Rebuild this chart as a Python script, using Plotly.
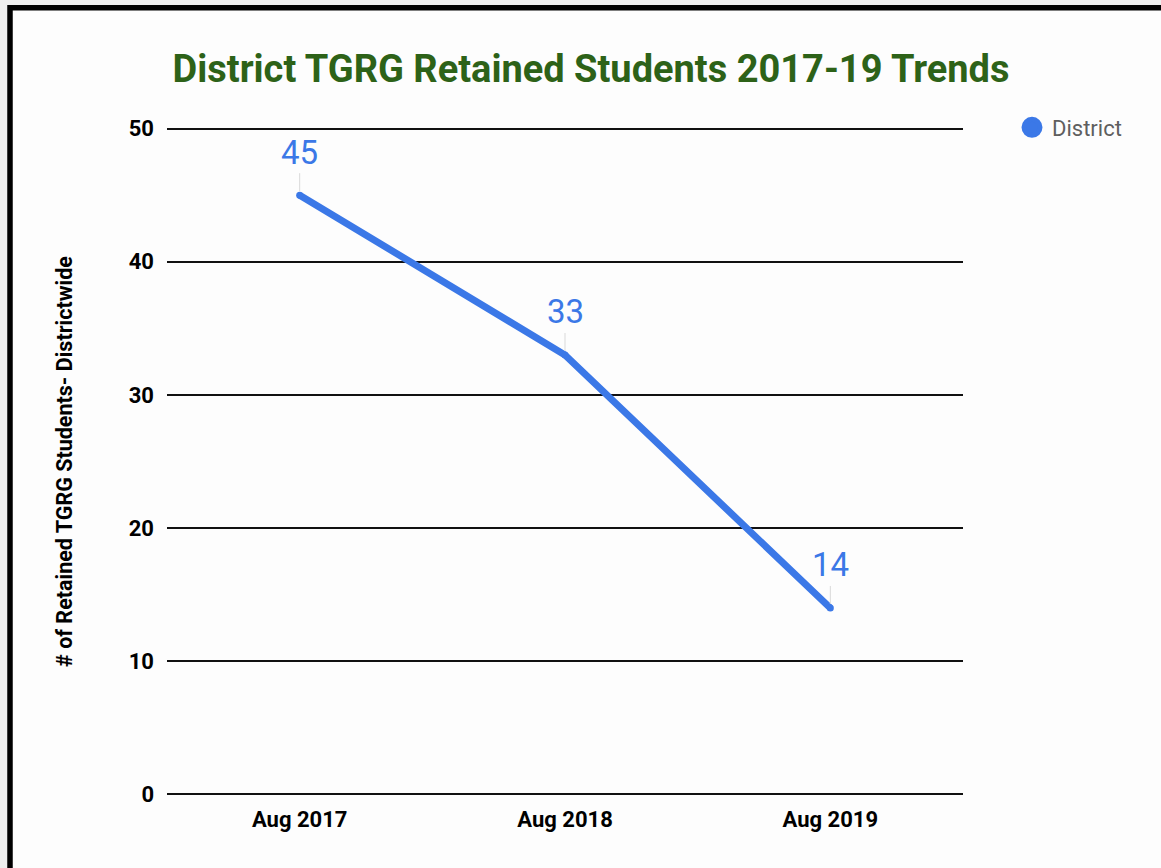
import plotly.graph_objects as go

categories = ["Aug 2017", "Aug 2018", "Aug 2019"]
district = [45, 33, 14]
y_ticks = [0, 10, 20, 30, 40, 50]

W, H = 1161, 868
L, R, T, B = 167, W - 963, 126.5, 71.5
BLUE = "#3b78e7"

fig = go.Figure()
fig.add_trace(go.Scatter(
    x=categories, y=district, mode="lines+markers",
    line=dict(color=BLUE, width=7),
    marker=dict(color=BLUE, size=7),
    showlegend=False, hoverinfo="x+y",
))
fig.add_trace(go.Scatter(
    x=[None], y=[None], mode="markers", name="District",
    marker=dict(color=BLUE, size=22, line=dict(color=BLUE, width=5)),
))

for c, v in zip(categories, district):
    fig.add_annotation(
        x=c, y=v, text=str(v), showarrow=True, arrowhead=0, arrowwidth=1,
        arrowcolor="#d9d9d9", ax=0, ay=-43, standoff=4,
        font=dict(family="Roboto", size=33, color=BLUE),
    )

def px_x(p):
    return (p - L) / (W - L - R)

def px_y(p):
    return 1 - (p - T) / (H - T - B)

# outer frame
fig.add_shape(type="rect", xref="paper", yref="paper",
              x0=px_x(-20), x1=px_x(W + 40), y0=px_y(-20), y1=px_y(H + 40),
              line=dict(width=0), fillcolor="#eeeeee", layer="below")
fig.add_shape(type="rect", xref="paper", yref="paper",
              x0=px_x(10), x1=px_x(W + 40), y0=px_y(7), y1=px_y(H + 40),
              line=dict(color="black", width=5.5), fillcolor="#fdfdfd", layer="below")

fig.update_layout(
    width=W, height=H,
    margin=dict(l=L, r=R, t=T, b=B, pad=0),
    paper_bgcolor="#fdfdfd", plot_bgcolor="rgba(0,0,0,0)",
    font=dict(family="Roboto", color="black"),
    title=dict(text="District TGRG Retained Students 2017-19 Trends",
               xref="container", x=591 / W, xanchor="center",
               yref="container", y=1 - 69 / H, yanchor="middle",
               font=dict(family="Roboto", size=38, color="#2d6218", weight="bold")),
    xaxis=dict(range=[-0.5, 2.5], showgrid=False, zeroline=False, showline=False,
               tickfont=dict(family="Roboto", size=22, color="black", weight="bold"),
               ticks="", ticklabelstandoff=8),
    yaxis=dict(range=[-0.12, 50.12], tickvals=y_ticks, showgrid=True, gridcolor="#111111",
               gridwidth=1.6, zeroline=False, showline=False, ticks="",
               tickfont=dict(family="Roboto", size=22, color="black", weight="bold"),
               ticklabelstandoff=12,
               title=dict(text="# of Retained TGRG Students- Districtwide", standoff=50,
                          font=dict(family="Roboto", size=21.5, color="black", weight="bold"))),
    legend=dict(x=1.0 + (1012 - 963) / (W - L - R), xanchor="left",
                y=px_y(106), yanchor="top",
                font=dict(family="Roboto", size=22, color="#5f5f5f"),
                bgcolor="rgba(0,0,0,0)", itemsizing="trace"),
)

fig.write_html("out.html", config={"displayModeBar": False},
               post_script="document.body.style.margin='0';")
